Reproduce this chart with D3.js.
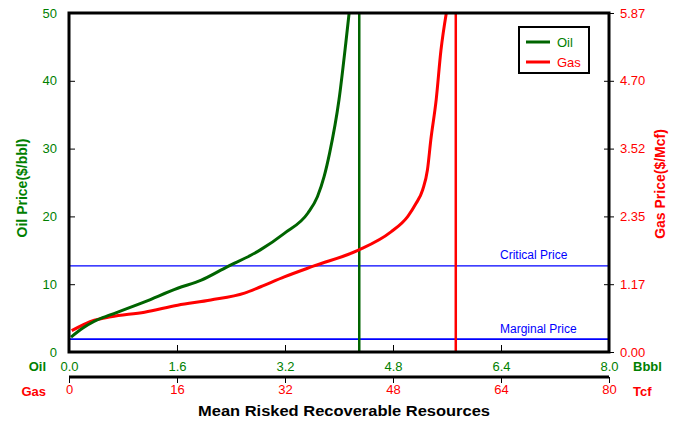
<!DOCTYPE html>
<html><head><meta charset="utf-8">
<script src="https://cdn.jsdelivr.net/npm/d3@7"></script>
<style>
html,body{margin:0;padding:0;background:#fff;}
svg{display:block;font-family:"Liberation Sans",Arial,sans-serif;}
</style></head>
<body><svg id="c" width="684" height="425"></svg>
<script>
// ---- data ----
const oilX = [0.03,0.20,0.37,0.62,1.12,1.61,1.96,2.35,2.70,2.84,3.19,3.54,3.68,3.78,3.86,4.00,4.10,4.15];
const oilPrice = [2.2,3.5,4.5,5.5,7.4,9.4,10.6,12.6,14.3,15.1,17.5,20.5,22.9,25.9,29.3,37.2,45.5,50];
const gasX = [0.4,3.75,6.2,11.2,16.1,21.0,26.0,28.4,31.9,36.3,42.8,47.7,50.2,51.4,52.4,53.1,53.6,54.4,55.1,55.9];
const gasPrice = [0.37,0.55,0.61,0.69,0.81,0.90,1.02,1.13,1.30,1.49,1.76,2.08,2.35,2.57,2.81,3.15,3.67,4.37,5.22,5.87];
const oilMeanRes = 4.3;      // Bbbl
const gasMeanRes = 57.3;     // Tcf
const criticalPrice = 12.7;  // $/bbl
const marginalPrice = 1.9;   // $/bbl
const oilTicks = [0,1.6,3.2,4.8,6.4,8.0];
const gasTicks = [0,16,32,48,64,80];
const oilPriceTicks = [0,10,20,30,40,50];
const gasPriceMax = 5.87;
const gasPriceTicks = [0,1,2,3,4,5].map(i => gasPriceMax*i/5);
const seriesNames = ["Oil","Gas"];

const GREEN = "#006400", GREEN_T = "#008000", RED = "#ff0000", BLUE = "#0000ff";
const L = 69, R = 609, T = 13, B = 352, GASAX = 377;

const svg = d3.select("#c");
const xOil = d3.scaleLinear([0,8],[L,R]);
const xGas = d3.scaleLinear([0,80],[L,R]);
const yOil = d3.scaleLinear([0,50],[B,T]);
const yGas = d3.scaleLinear([0,gasPriceMax],[B,T]);

svg.append("defs").append("clipPath").attr("id","clip")
  .append("rect").attr("x",L).attr("y",T).attr("width",R-L).attr("height",B-T);

const plot = svg.append("g").attr("clip-path","url(#clip)");

// reference price lines
plot.append("line").attr("x1",L).attr("x2",R).attr("y1",yOil(criticalPrice)).attr("y2",yOil(criticalPrice))
  .attr("stroke",BLUE).attr("stroke-width",1.3);
plot.append("line").attr("x1",L).attr("x2",R).attr("y1",yOil(marginalPrice)).attr("y2",yOil(marginalPrice))
  .attr("stroke",BLUE).attr("stroke-width",1.8);
svg.append("text").attr("x",500).attr("y",yOil(criticalPrice)-7).attr("fill",BLUE)
  .attr("font-size",12).text("Critical Price");
svg.append("text").attr("x",500).attr("y",yOil(marginalPrice)-6).attr("fill",BLUE)
  .attr("font-size",12).text("Marginal Price");

// vertical mean lines
plot.append("line").attr("x1",xOil(oilMeanRes)).attr("x2",xOil(oilMeanRes)).attr("y1",T).attr("y2",B)
  .attr("stroke",GREEN).attr("stroke-width",2.5);
plot.append("line").attr("x1",xGas(gasMeanRes)).attr("x2",xGas(gasMeanRes)).attr("y1",T).attr("y2",B)
  .attr("stroke",RED).attr("stroke-width",2.5);

// curves
const oilData = oilX.map((x,i)=>[x,oilPrice[i]]);
const gasData = gasX.map((x,i)=>[x,gasPrice[i]]);
plot.append("path").datum(gasData)
  .attr("d", d3.line().x(d=>xGas(d[0])).y(d=>yGas(d[1])).curve(d3.curveMonotoneX))
  .attr("fill","none").attr("stroke",RED).attr("stroke-width",3);
plot.append("path").datum(oilData)
  .attr("d", d3.line().x(d=>xOil(d[0])).y(d=>yOil(d[1])).curve(d3.curveMonotoneX))
  .attr("fill","none").attr("stroke",GREEN).attr("stroke-width",3);

// plot frame
svg.append("rect").attr("x",L).attr("y",T).attr("width",R-L).attr("height",B-T)
  .attr("fill","none").attr("stroke","#000").attr("stroke-width",3);

// left axis
const la = svg.append("g").attr("transform",`translate(${L},0)`)
  .call(d3.axisLeft(yOil).tickValues(oilPriceTicks).tickSizeInner(6).tickSizeOuter(0).tickPadding(6).tickFormat(d3.format("d")));
la.select(".domain").remove();
la.selectAll(".tick line").attr("x2",6).attr("stroke","#000");
la.selectAll(".tick text").attr("fill",GREEN_T).attr("font-size",13).attr("font-family","Liberation Sans, Arial");

// right axis
const ra = svg.append("g").attr("transform",`translate(${R},0)`)
  .call(d3.axisRight(yGas).tickValues(gasPriceTicks).tickSizeInner(5).tickSizeOuter(0).tickPadding(6).tickFormat(d3.format(".2f")));
ra.select(".domain").remove();
ra.selectAll(".tick line").attr("x1",-5).attr("stroke","#000");
ra.selectAll(".tick text").attr("fill",RED).attr("font-size",13).attr("font-family","Liberation Sans, Arial");

// bottom oil axis (ticks inward)
const ba = svg.append("g").attr("transform",`translate(0,${B})`)
  .call(d3.axisBottom(xOil).tickValues(oilTicks).tickSizeInner(-7).tickSizeOuter(0).tickPadding(10).tickFormat(d3.format(".1f")));
ba.select(".domain").remove();
ba.selectAll(".tick line").attr("stroke","#000");
ba.selectAll(".tick text").attr("fill",GREEN_T).attr("font-size",13).attr("font-family","Liberation Sans, Arial");

// gas axis
svg.append("line").attr("x1",L).attr("x2",R).attr("y1",GASAX).attr("y2",GASAX).attr("stroke","#000").attr("stroke-width",3);
const ga = svg.append("g").attr("transform",`translate(0,${GASAX})`)
  .call(d3.axisBottom(xGas).tickValues(gasTicks).tickSizeInner(6).tickSizeOuter(0).tickPadding(2).tickFormat(d3.format("d")));
ga.select(".domain").remove();
ga.selectAll(".tick line").attr("stroke","#000");
ga.selectAll(".tick text").attr("fill",RED).attr("font-size",13).attr("font-family","Liberation Sans, Arial");

// unit labels
svg.append("text").attr("x",46).attr("y",371).attr("text-anchor","end").attr("fill",GREEN_T)
  .attr("font-weight","bold").attr("font-size",13).text(seriesNames[0]);
svg.append("text").attr("x",46).attr("y",396).attr("text-anchor","end").attr("fill",RED)
  .attr("font-weight","bold").attr("font-size",13).text(seriesNames[1]);
svg.append("text").attr("x",633).attr("y",371).attr("fill",GREEN_T)
  .attr("font-weight","bold").attr("font-size",13).text("Bbbl");
svg.append("text").attr("x",633).attr("y",396).attr("fill",RED)
  .attr("font-weight","bold").attr("font-size",13).text("Tcf");

// x title
svg.append("text").attr("x",198).attr("y",416).attr("fill","#000").attr("font-weight","bold")
  .attr("font-size",14).attr("textLength",292).attr("lengthAdjust","spacingAndGlyphs")
  .text("Mean Risked Recoverable Resources");

// y titles
svg.append("text").attr("transform","translate(27,188) rotate(-90)").attr("text-anchor","middle")
  .attr("fill",GREEN_T).attr("font-weight","bold").attr("font-size",14).text("Oil Price($/bbl)");
svg.append("text").attr("transform","translate(665,184) rotate(-90)").attr("text-anchor","middle")
  .attr("fill",RED).attr("font-weight","bold").attr("font-size",14).text("Gas Price($/Mcf)");

// legend
const lg = svg.append("g");
lg.append("rect").attr("x",519).attr("y",27).attr("width",70).attr("height",46)
  .attr("fill","#fff").attr("stroke","#000").attr("stroke-width",2);
[[GREEN,GREEN_T,42],[RED,RED,62]].forEach((c,i)=>{
  lg.append("line").attr("x1",526).attr("x2",550).attr("y1",c[2]).attr("y2",c[2]).attr("stroke",c[0]).attr("stroke-width",3);
  lg.append("text").attr("x",557).attr("y",c[2]+4.5).attr("fill",c[1]).attr("font-size",13).text(seriesNames[i]);
});
</script></body></html>
